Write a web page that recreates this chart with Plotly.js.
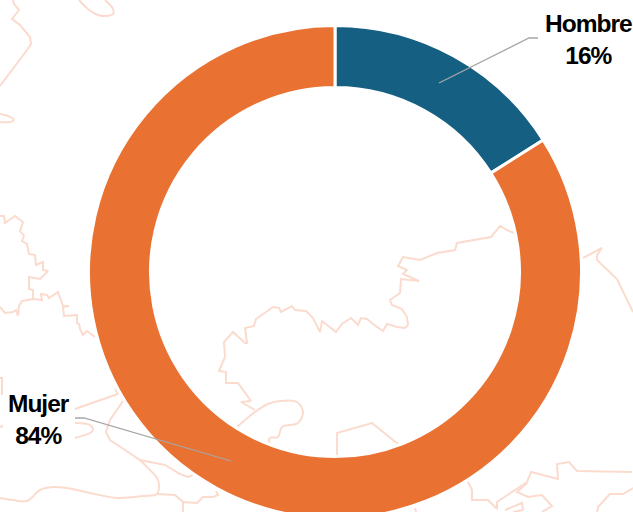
<!DOCTYPE html>
<html>
<head>
<meta charset="utf-8">
<script src="https://cdn.plot.ly/plotly-3.0.1.min.js"></script>
<style>
html,body{margin:0;padding:0;width:633px;height:512px;overflow:hidden;background:#fff}
#chart{width:633px;height:544px}
.annotation-text{letter-spacing:-1px}
</style>
</head>
<body>
<div id="chart"></div>
<script>
const categories = ["Hombre", "Mujer"];
const shares = [16, 84];
const sliceColors = ["#156082", "#E97132"];
const labelText = ["Hombre<br>16%", "Mujer<br>84%"];
const labelX = [588, 38.5];
const labelY = [39, 419.5];
const leaderHombreX = [439, 529, 538];
const leaderHombreY = [83, 38, 38];
const leaderMujerX = [75, 84, 231];
const leaderMujerY = [418, 418, 461];

// Faint background map outlines
const mapA = [[13,0],[14,4],[19,10],[12,19],[20,25],[30,37],[31,44],[27,50],[0,86]];
const mapB = [[79,0],[88,9],[98,15],[107,16],[113,14],[113,9],[105,0]];
const mapC = [[0,114],[8,116],[14,120],[10,122],[0,122]];
const mapD = [[0,216],[4,216],[5,223],[15,216],[23,222],[20,231],[24,236],[22,241],[27,244],[29,254],[35,255],[36,265],[43,262],[43,270],[48,271],[40,279],[29,277],[29,289],[33,290],[33,299]];
const mapE = [[0,307],[5,313],[13,312],[16,310],[18,316],[19,306],[22,301],[33,299],[42,300],[41,294],[47,295],[49,298],[58,292],[63,306],[69,306],[63,307],[64,316],[77,315],[77,323],[79,324],[80,329],[83,335],[87,331],[95,337]];
const mapF = [[75,409],[118,394],[115,389]];
const mapG = [[123,401],[110,420],[106,432],[110,440],[125,450],[140,460],[165,465],[180,474],[188,477],[193,475]];
const mapH = [[140,460],[150,470],[157,478],[159,485],[157,494],[143,496],[117,498],[90,493],[67,488],[53,487],[40,490],[27,501],[13,500],[0,498]];
const mapI = [[157,494],[175,495],[183,502],[183,512]];
const mapJ = [[183,502],[197,503],[203,497],[213,497],[218,495],[216,491]];
const mapK = [[75,423],[90,425],[93,430],[90,433],[75,438]];
const mapL = [[0,378],[2,378],[2,395]];
const mapM = [[0,427],[3,426]];
const mapN = [[255,410],[241,402],[251,401],[238,383],[226,383],[226,372],[219,371],[225,357],[224,342],[233,332],[245,343],[247,343],[245,328],[254,326],[256,319],[273,307],[279,308],[281,312],[292,306],[295,310],[306,311],[313,318],[320,332],[322,321],[336,332],[342,324],[351,318],[358,325],[361,318],[367,319],[373,324],[383,331],[387,324],[397,327],[405,328],[408,325],[407,317],[402,309],[392,305],[390,300],[400,293],[401,279],[419,281],[403,274],[407,270],[398,266],[403,257],[420,260],[437,253],[455,250],[457,243],[491,237],[500,226],[507,230],[514,233]];
const mapO = [[237,427],[255,412],[268,404],[280,401],[297,402],[303,412],[298,423],[282,427],[278,437],[270,438],[269,442],[272,445]];
const mapP = [[337,455],[337,433],[372,423],[398,444]];
const mapQ = [[468,482],[472,490],[472,500],[488,500],[497,509],[497,502],[527,482],[531,472],[558,479],[557,464],[569,462],[577,471],[632,472]];
const mapR = [[527,483],[517,492],[528,497],[542,495],[552,506],[542,512]];
const mapS = [[505,510],[515,506],[522,503],[523,510],[513,512]];
const mapT = [[597,512],[598,507],[610,494],[623,494],[633,488]];
const mapU = [[415,508],[416,512]];
const mapV = [[583,258],[602,248],[597,255],[597,260],[617,279],[633,312]];
const mapPaths = [mapA,mapB,mapC,mapD,mapE,mapF,mapG,mapH,mapI,mapJ,mapK,mapL,mapM,mapN,mapO,mapP,mapQ,mapR,mapS,mapT,mapU,mapV];
const curvedPaths = [mapB, mapC, mapH, mapK, mapO];

const W = 633, H = 544;
const traces = mapPaths.map(p => ({
  type: "scatter", mode: "lines",
  x: p.map(q => q[0]), y: p.map(q => q[1]),
  line: {color: "#FBDBCE", width: 2, shape: curvedPaths.includes(p) ? "spline" : "linear"},
  hoverinfo: "skip", showlegend: false
}));
traces.push({
  type: "pie",
  labels: categories, values: shares,
  hole: 0.7485, sort: false, direction: "clockwise", rotation: 0,
  textinfo: "none", showlegend: false,
  marker: {colors: sliceColors, line: {color: "#ffffff", width: 3}},
  domain: {x: [88.5/W, 581.5/W], y: [1-518.5/H, 1-25.5/H]}
});

function leader(xs, ys) {
  return {
    type: "path", xref: "x", yref: "y", layer: "above",
    path: xs.map((v,i) => (i ? "L" : "M") + v + "," + ys[i]).join(" "),
    line: {color: "#A6A6A6", width: 1.3}
  };
}

const layout = {
  width: W, height: H,
  margin: {l:0, r:0, t:0, b:0},
  paper_bgcolor: "#ffffff", plot_bgcolor: "rgba(0,0,0,0)",
  showlegend: false,
  xaxis: {range: [0, W], visible: false, fixedrange: true},
  yaxis: {range: [H, 0], visible: false, fixedrange: true},
  shapes: [leader(leaderHombreX, leaderHombreY), leader(leaderMujerX, leaderMujerY)],
  annotations: labelText.map((t,i) => ({
    text: "<b>" + t + "</b>",
    x: labelX[i], y: labelY[i], xref: "x", yref: "y",
    xanchor: "center", yanchor: "middle", align: "center", showarrow: false,
    font: {family: "Liberation Sans, Arial, sans-serif", size: 24.5, color: "#000000"}
  }))
};
Plotly.newPlot("chart", traces, layout, {displayModeBar: false, staticPlot: true});
</script>
</body>
</html>
